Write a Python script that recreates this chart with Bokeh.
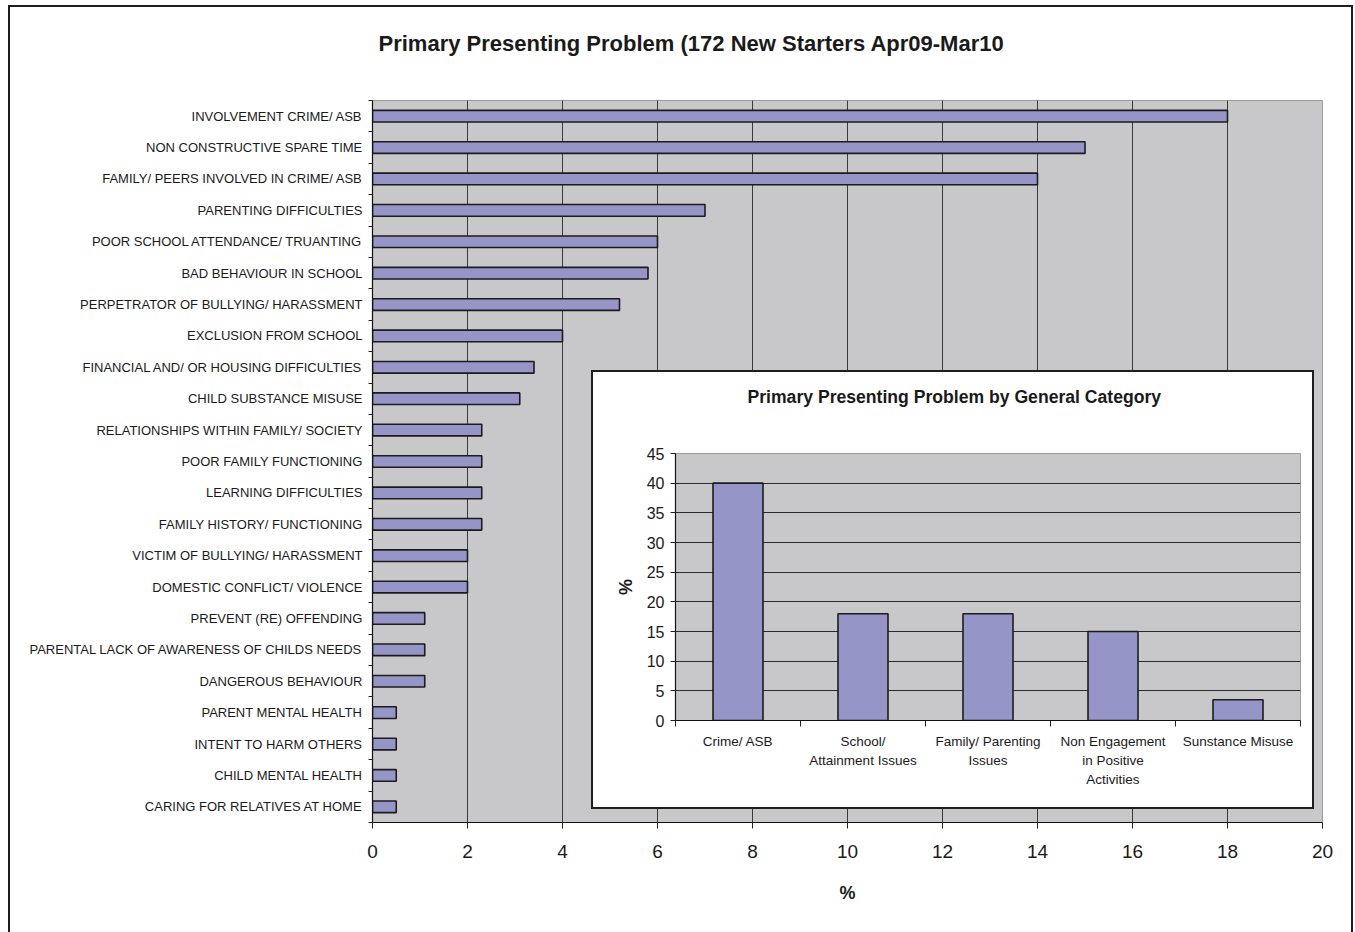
from bokeh.plotting import figure
from bokeh.models import ColumnDataSource, FixedTicker, Range1d, Div, Title
from bokeh.embed import file_html
from bokeh.resources import INLINE

# ---- data -----------------------------------------------------------------
problems = [
    "INVOLVEMENT CRIME/ ASB",
    "NON CONSTRUCTIVE SPARE TIME",
    "FAMILY/ PEERS INVOLVED IN CRIME/ ASB",
    "PARENTING DIFFICULTIES",
    "POOR SCHOOL ATTENDANCE/ TRUANTING",
    "BAD BEHAVIOUR IN SCHOOL",
    "PERPETRATOR OF BULLYING/ HARASSMENT",
    "EXCLUSION FROM SCHOOL",
    "FINANCIAL AND/ OR HOUSING DIFFICULTIES",
    "CHILD SUBSTANCE MISUSE",
    "RELATIONSHIPS WITHIN FAMILY/ SOCIETY",
    "POOR FAMILY FUNCTIONING",
    "LEARNING DIFFICULTIES",
    "FAMILY HISTORY/ FUNCTIONING",
    "VICTIM OF BULLYING/ HARASSMENT",
    "DOMESTIC CONFLICT/ VIOLENCE",
    "PREVENT (RE) OFFENDING",
    "PARENTAL LACK OF AWARENESS OF CHILDS NEEDS",
    "DANGEROUS BEHAVIOUR",
    "PARENT MENTAL HEALTH",
    "INTENT TO HARM OTHERS",
    "CHILD MENTAL HEALTH",
    "CARING FOR RELATIVES AT HOME",
]
problem_pct = [18, 15, 14, 7, 6, 5.8, 5.2, 4, 3.4, 3.1, 2.3, 2.3, 2.3, 2.3,
               2, 2, 1.1, 1.1, 1.1, 0.5, 0.5, 0.5, 0.5]

groups = [
    "Crime/ ASB",
    "School/\nAttainment Issues",
    "Family/ Parenting\nIssues",
    "Non Engagement\nin Positive\nActivities",
    "Sunstance Misuse",
]
group_pct = [40, 18, 18, 15, 3.5]

pct_ticks = list(range(0, 21, 2))
group_ticks = list(range(0, 46, 5))

main_title = "Primary Presenting Problem (172 New Starters Apr09-Mar10"
inset_title = "Primary Presenting Problem by General Category"

# ---- styling ----------------------------------------------------------------
FONT = "Liberation Sans"
BAR_FILL = "#9595C8"
BAR_EDGE = "#1C1C1C"
PLOT_BG = "#C8C8CA"
TEXT = "#1A1A1A"
GRID = "#3A3A3A"


def gap(height):
    """Blank title used to hold the real title away from the plot frame."""
    return Title(text=" ", text_font_size="4px", standoff=height - 5)


def box(left, top, width, height, sides=("left", "top", "right", "bottom")):
    """Transparent bordered box laid over the page."""
    styles = {"position": "absolute", "left": f"{left}px", "top": f"{top}px",
              "pointer-events": "none"}
    for side in sides:
        styles[f"border-{side}"] = "2px solid #1E1E1E"
    return Div(text="", width=width, height=height, margin=0, styles=styles)


# ---- main horizontal bar chart ----------------------------------------------
n = len(problems)
rows = list(range(n - 1, -1, -1))          # first problem drawn at the top
main_src = ColumnDataSource(dict(row=rows, pct=problem_pct, name=problems))

p = figure(width=1355, height=932,
           x_range=Range1d(0, 20), y_range=Range1d(-0.5, n - 0.5),
           output_backend="svg", toolbar_location=None, tools="",
           min_border_left=372, min_border_right=33,
           min_border_top=100, min_border_bottom=110,
           background_fill_color=PLOT_BG, border_fill_color="white",
           outline_line_color="#9C9C9C")

p.hbar(y="row", left=0, right="pct", height=0.37, source=main_src,
       fill_color=BAR_FILL, line_color=BAR_EDGE, line_width=1.6)

p.title.text = main_title
p.title.align = "left"
p.title.offset = 6
p.title.vertical_align = "top"
p.title.standoff = 50
p.title.text_font = FONT
p.title.text_font_size = "22px"
p.title.text_font_style = "bold"
p.title.text_color = TEXT
p.add_layout(gap(16), "above")

ya = p.yaxis[0]
ya.ticker = FixedTicker(ticks=rows, minor_ticks=[r - 0.5 for r in range(n + 1)])
ya.major_label_overrides = {r: name for r, name in zip(rows, problems)}
ya.major_tick_out = 0
ya.major_tick_in = 0
ya.minor_tick_out = 4
ya.minor_tick_in = 0
ya.minor_tick_line_color = "#222222"
ya.major_label_standoff = 6
ya.major_label_text_font = FONT
ya.major_label_text_font_size = "13px"
ya.major_label_text_color = TEXT
ya.axis_line_color = "#111111"
ya.axis_line_width = 1.2

xa = p.xaxis[0]
xa.ticker = FixedTicker(ticks=pct_ticks)
xa.major_tick_out = 6
xa.major_tick_in = 0
xa.major_tick_line_color = "#222222"
xa.minor_tick_line_color = None
xa.major_label_standoff = 16
xa.major_label_text_font = FONT
xa.major_label_text_font_size = "19px"
xa.major_label_text_color = TEXT
xa.axis_line_color = "#111111"
xa.axis_line_width = 1.2
xa.axis_label = "%"
xa.axis_label_text_font = FONT
xa.axis_label_text_font_size = "18px"
xa.axis_label_text_font_style = "bold"
xa.axis_label_text_color = TEXT
xa.axis_label_standoff = 22

# interior grid lines only; the frame edges keep the lighter outline
p.xgrid.ticker = FixedTicker(ticks=pct_ticks[1:-1])
p.xgrid.grid_line_color = GRID
p.xgrid.grid_line_width = 1
p.ygrid.visible = False

# ---- inset: totals by general category ---------------------------------------
m = len(groups)
cols = list(range(m))
inset_src = ColumnDataSource(dict(col=cols, pct=group_pct))

inset = figure(width=722, height=438,
               x_range=Range1d(-0.5, m - 0.5), y_range=Range1d(0, 45),
               output_backend="svg", toolbar_location=None, tools="",
               min_border_left=84, min_border_right=13,
               min_border_top=83, min_border_bottom=88,
               background_fill_color=PLOT_BG, border_fill_color="white",
               outline_line_color="#9C9C9C",
               styles={"position": "absolute", "left": "591px", "top": "370px"})

inset.vbar(x="col", bottom=0, top="pct", width=0.4, source=inset_src,
           fill_color=BAR_FILL, line_color=BAR_EDGE, line_width=1.6)

inset.title.text = inset_title
inset.title.align = "left"
inset.title.offset = 72
inset.title.vertical_align = "top"
inset.title.standoff = 18
inset.title.text_font = FONT
inset.title.text_font_size = "17.6px"
inset.title.text_font_style = "bold"
inset.title.text_color = TEXT
inset.add_layout(gap(34), "above")

ix = inset.xaxis[0]
ix.ticker = FixedTicker(ticks=cols, minor_ticks=[c - 0.5 for c in range(m + 1)])
ix.major_label_overrides = {c: g for c, g in zip(cols, groups)}
ix.major_tick_out = 0
ix.major_tick_in = 0
ix.minor_tick_out = 6
ix.minor_tick_in = 0
ix.minor_tick_line_color = "#222222"
ix.major_label_standoff = 7
ix.major_label_text_font = FONT
ix.major_label_text_font_size = "13.5px"
ix.major_label_text_color = TEXT
ix.major_label_text_line_height = 1.27
ix.axis_line_color = "#111111"
ix.axis_line_width = 1.2

iy = inset.yaxis[0]
iy.ticker = FixedTicker(ticks=group_ticks)
iy.major_tick_out = 5
iy.major_tick_in = 0
iy.major_tick_line_color = "#222222"
iy.minor_tick_line_color = None
iy.major_label_standoff = 6
iy.major_label_text_font = FONT
iy.major_label_text_font_size = "16px"
iy.major_label_text_color = TEXT
iy.axis_line_color = "#111111"
iy.axis_line_width = 1.2
iy.axis_label = "%"
iy.axis_label_text_font = FONT
iy.axis_label_text_font_size = "18px"
iy.axis_label_text_font_style = "bold"
iy.axis_label_text_color = TEXT
iy.axis_label_standoff = 8

inset.ygrid.ticker = FixedTicker(ticks=group_ticks[1:-1])
inset.ygrid.grid_line_color = "#2A2A2A"
inset.ygrid.grid_line_width = 1
inset.xgrid.visible = False

# ---- borders: page frame (open at the foot) and the inset's box --------------
page_frame = box(8, 5, 1345, 927, sides=("left", "top", "right"))
inset_frame = box(591, 370, 723, 439)

with open("out.html", "w") as f:
    f.write(file_html([p, page_frame, inset, inset_frame], INLINE))
